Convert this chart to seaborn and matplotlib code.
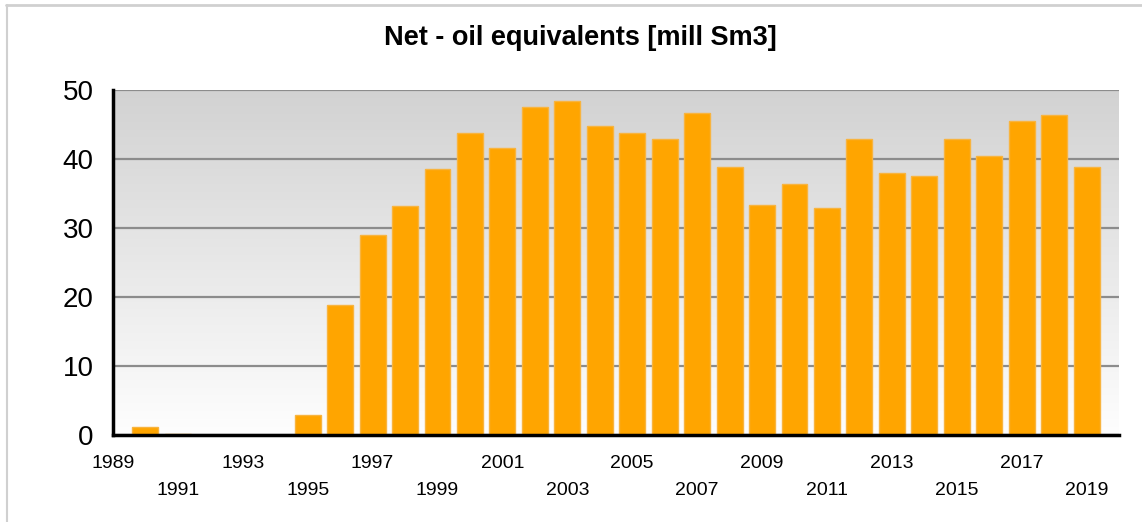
import numpy as np
import pandas as pd
import matplotlib
matplotlib.use("Agg")
import matplotlib.pyplot as plt
from matplotlib.lines import Line2D
from matplotlib.colors import LinearSegmentedColormap
import seaborn as sns

years = list(range(1989, 2020))
values = [0.0, 1.1, 0.15, 0.0, 0.0, 0.0, 2.85, 18.8, 29.0, 33.2, 38.55, 43.8, 41.55,
          47.5, 48.4, 44.8, 43.7, 42.85, 46.6, 38.9, 33.3, 36.4, 32.9, 42.85, 37.9,
          37.5, 42.95, 40.4, 45.45, 46.4, 38.9]
tick_years = list(range(1989, 2020, 2))
title = "Net - oil equivalents [mill Sm3]"

df = pd.DataFrame({"year": years, "value": values})

sns.set_style("white")
plt.rcParams["font.family"] = ["Liberation Sans", "DejaVu Sans"]
plt.rcParams["text.color"] = "black"
plt.rcParams["xtick.labelcolor"] = "black"
plt.rcParams["ytick.labelcolor"] = "black"

fig = plt.figure(figsize=(11.42, 5.22), dpi=100)
W, H = 1142, 522
ax = fig.add_axes([113 / W, 1 - 435 / H, (1119 - 113) / W, (435 - 90) / H])

# gradient background
grad = np.linspace(0, 1, 256).reshape(-1, 1)
cmap = LinearSegmentedColormap.from_list("bg", ["#d2d2d2", "#fefefe"])
ax.imshow(grad, extent=[0, 1, 0, 1], transform=ax.transAxes, cmap=cmap,
          aspect="auto", zorder=0, origin="upper")

sns.barplot(data=df, x="year", y="value", native_scale=True, color="#FFA500",
            saturation=1, edgecolor="#f8b43f", linewidth=1, width=0.8, ax=ax,
            zorder=3)

ax.set_xlim(1989, 2020)
ax.set_ylim(0, 50)
ax.set_yticks([0, 10, 20, 30, 40, 50])
ax.yaxis.grid(True, color="#8c8c8c", linewidth=1.6, zorder=1)
ax.set_axisbelow(True)
ax.set_xticks(tick_years)
ax.set_xticklabels([str(y) if i % 2 == 0 else "\n" + str(y)
                    for i, y in enumerate(tick_years)], linespacing=1.75)
ax.tick_params(axis="x", labelsize=14, length=5, width=1, color="#555555",
               labelcolor="black", direction="out", pad=9.5)
ax.tick_params(axis="y", labelsize=20, length=11, width=1, color="#8c8c8c",
               labelcolor="black", direction="out", pad=3)
ax.set_xlabel("")
ax.set_ylabel("")
for s in ["top", "right"]:
    ax.spines[s].set_visible(False)
for s in ["left", "bottom"]:
    ax.spines[s].set_color("black")
    ax.spines[s].set_linewidth(2.5)
    ax.spines[s].set_zorder(5)

fig.text(580 / W, 1 - 38 / H, title, ha="center", va="center",
         fontsize=19.5, fontweight="bold", color="black")

# light frame at top and left
fig.add_artist(Line2D([6 / W, 1], [1 - 5 / H, 1 - 5 / H], color="#d0d0d0",
                      linewidth=2, transform=fig.transFigure))
fig.add_artist(Line2D([7 / W, 7 / W], [0, 1 - 5 / H], color="#d0d0d0",
                      linewidth=1.5, transform=fig.transFigure))

fig.savefig("out.png", dpi=100)
